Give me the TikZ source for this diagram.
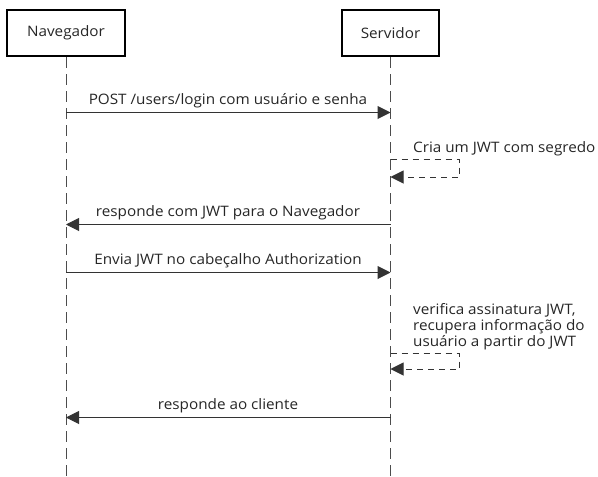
\documentclass[tikz,border=0pt]{standalone}
\usepackage{fontspec}
\setmainfont[FakeStretch=1.06]{Open Sans}
\usetikzlibrary{arrows.meta}
\begin{document}
\begin{tikzpicture}[x=1pt,y=-1pt,
  font=\fontsize{14.4}{16}\selectfont,
  actor/.style={draw=black, line width=2pt, minimum height=46pt, inner sep=0pt, text=black!85},
  life/.style={draw=black!70, line width=1pt, dash pattern=on 11pt off 6pt},
  msg/.style={draw=black!80, line width=1pt, -{Triangle[length=13pt,width=13pt]}},
  selfmsg/.style={draw=black!80, line width=1pt, dash pattern=on 6pt off 5pt, -{Triangle[length=13pt,width=13pt]}},
  lbl/.style={inner sep=0pt, text=black!85},
]
\useasboundingbox (0,0) rectangle (598,477);
\node[actor, minimum width=118pt] (nav) at (66,33) {Navegador};
\node[actor, minimum width=97pt] (srv) at (390.5,33) {Servidor};
\coordinate (navend) at (66,477);
\coordinate (srvend) at (390.5,477);
\draw[life] (nav.south) -- (navend);
\draw[life] (srv.south) -- (srvend);
% message 1
\coordinate (a1) at (66,112.5); \coordinate (b1) at (390.5,112.5);
\draw[msg] (a1) -- (b1);
\node[lbl, anchor=base] (l1) at (228,104.5) {POST /users/login com usuário e senha};
% self 1
\coordinate (s1a) at (390.5,159); \coordinate (s1b) at (459,159);
\coordinate (s1c) at (459,177); \coordinate (s1d) at (390.5,177);
\draw[selfmsg] (s1a) -- (s1b) -- (s1c) -- (s1d);
\node[lbl, anchor=base west] (l2) at (413,152) {Cria um JWT com segredo};
% message 3
\coordinate (a3) at (390.5,224.5); \coordinate (b3) at (66,224.5);
\draw[msg] (a3) -- (b3);
\node[lbl, anchor=base] (l3) at (228,216.5) {responde com JWT para o Navegador};
% message 4
\coordinate (a4) at (66,272.5); \coordinate (b4) at (390.5,272.5);
\draw[msg] (a4) -- (b4);
\node[lbl, anchor=base] (l4) at (228,264.5) {Envia JWT no cabeçalho Authorization};
% self 2
\coordinate (s2a) at (390.5,353); \coordinate (s2b) at (459,353);
\coordinate (s2c) at (459,369); \coordinate (s2d) at (390.5,369);
\draw[selfmsg] (s2a) -- (s2b) -- (s2c) -- (s2d);
\node[lbl, anchor=base west] (l5a) at (413,314) {verifica assinatura JWT,};
\node[lbl, anchor=base west] (l5b) at (413,330) {recupera informação do};
\node[lbl, anchor=base west] (l5c) at (413,346) {usuário a partir do JWT};
% message 6
\coordinate (a6) at (390.5,417.5); \coordinate (b6) at (66,417.5);
\draw[msg] (a6) -- (b6);
\node[lbl, anchor=base] (l6) at (228,409.5) {responde ao cliente};
\end{tikzpicture}
\end{document}
